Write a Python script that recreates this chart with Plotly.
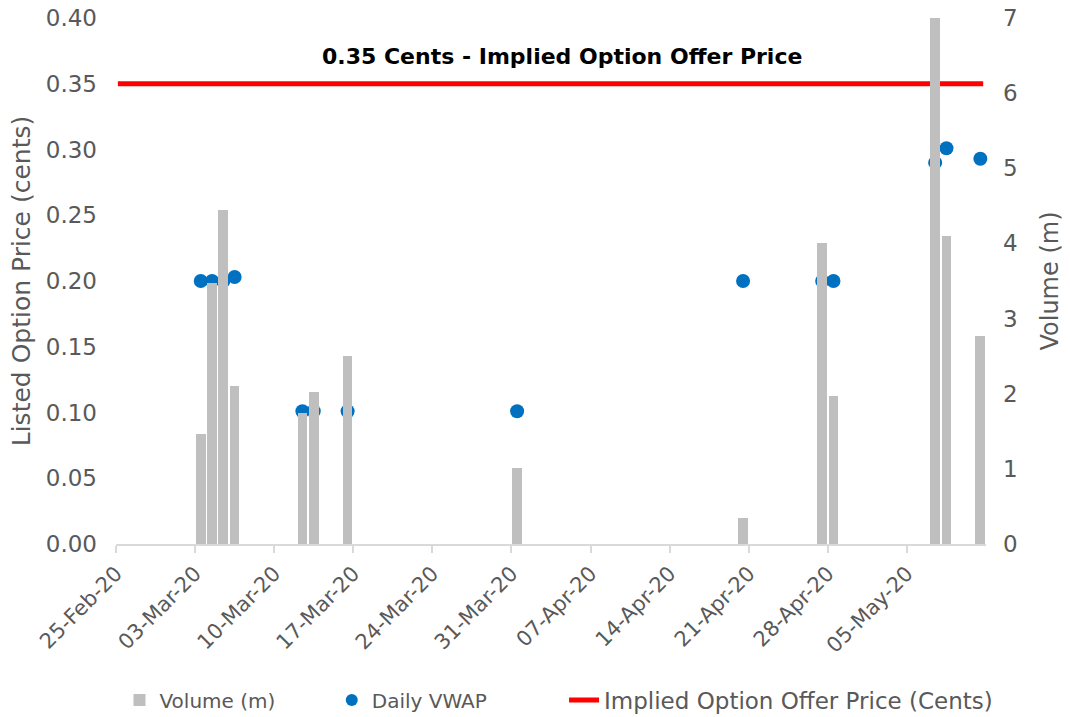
import plotly.graph_objects as go

# ---- data ----
vol_dates = ["2020-03-03", "2020-03-04", "2020-03-05", "2020-03-06",
             "2020-03-12", "2020-03-13", "2020-03-16",
             "2020-03-31", "2020-04-20", "2020-04-27", "2020-04-28",
             "2020-05-07", "2020-05-08", "2020-05-11"]
volume_m = [1.46, 3.48, 4.45, 2.10,
            1.75, 2.02, 2.50,
            1.01, 0.35, 4.00, 1.97,
            7.00, 4.10, 2.77]

vwap_dates = ["2020-03-03", "2020-03-04", "2020-03-05", "2020-03-06",
              "2020-03-12", "2020-03-13", "2020-03-16",
              "2020-03-31", "2020-04-20", "2020-04-27", "2020-04-28",
              "2020-05-07", "2020-05-08", "2020-05-11"]
vwap = [0.200, 0.200, 0.200, 0.203,
        0.101, 0.101, 0.101,
        0.101, 0.200, 0.200, 0.200,
        0.290, 0.301, 0.293]

offer_dates = ["2020-02-25 04:00", "2020-05-11 18:00"]
offer_price = [0.35, 0.35]

tick_dates = ["2020-02-25", "2020-03-03", "2020-03-10", "2020-03-17", "2020-03-24",
              "2020-03-31", "2020-04-07", "2020-04-14", "2020-04-21", "2020-04-28",
              "2020-05-05"]
tick_labels = ["25-Feb-20", "03-Mar-20", "10-Mar-20", "17-Mar-20", "24-Mar-20",
               "31-Mar-20", "07-Apr-20", "14-Apr-20", "21-Apr-20", "28-Apr-20",
               "05-May-20"]

DAY = 86400000
FONT = "DejaVu Sans"
GREY = "#595959"

fig = go.Figure()
fig.add_trace(go.Bar(
    x=vol_dates, y=volume_m, name="Volume (m)", yaxis="y2", legend="legend",
    marker=dict(color="#BFBFBF", line=dict(width=0)),
    width=0.86 * DAY, xperiod=DAY, xperiodalignment="middle",
))
fig.add_trace(go.Scatter(
    x=vwap_dates, y=vwap, name="Daily VWAP", mode="markers", legend="legend2",
    marker=dict(color="#0070C0", size=14), cliponaxis=False,
    xperiod=DAY, xperiodalignment="middle",
))
fig.add_trace(go.Scatter(
    x=offer_dates, y=offer_price, name="Implied Option Offer Price (Cents)",
    mode="lines", line=dict(color="#FF0000", width=5), legend="legend3",
))

fig.add_annotation(
    text="<b>0.35 Cents - Implied Option Offer Price</b>",
    xref="paper", yref="paper", x=0.513, y=0.927, yanchor="middle",
    showarrow=False, font=dict(family=FONT, size=22, color="#000000"),
)

leg_common = dict(orientation="h", y=-0.2966, yanchor="middle",
                  bgcolor="rgba(0,0,0,0)", itemsizing="constant")

fig.update_layout(
    width=1070, height=717,
    margin=dict(l=116, r=84, t=18, b=173, autoexpand=False),
    paper_bgcolor="white", plot_bgcolor="white",
    font=dict(family=FONT, color=GREY),
    bargap=0,
    showlegend=True,
    legend=dict(x=0.004, xanchor="left", font=dict(size=20, color=GREY), **leg_common),
    legend2=dict(x=0.248, xanchor="left", font=dict(size=20, color=GREY), **leg_common),
    legend3=dict(x=0.515, xanchor="left", font=dict(size=23, color=GREY), **leg_common),
    xaxis=dict(
        type="date", range=["2020-02-25", "2020-05-12"],
        tickvals=tick_dates, ticktext=tick_labels, tickangle=-45,
        tickfont=dict(size=21, color=GREY),
        showgrid=False, showline=True, linecolor="#D9D9D9", linewidth=2,
        ticks="outside", ticklen=7, tickcolor="#D9D9D9", tickwidth=2,
        zeroline=False, automargin=False, ticklabeloverflow="allow",
    ),
    yaxis=dict(
        range=[0, 0.40], tickvals=[0, 0.05, 0.10, 0.15, 0.20, 0.25, 0.30, 0.35, 0.40],
        tickformat=".2f",
        tickfont=dict(size=23, color=GREY), ticklabelstandoff=18,
        title=dict(text="Listed Option Price (cents)", font=dict(size=25, color=GREY), standoff=8),
        showgrid=False, zeroline=False, showline=False, automargin=False,
        ticklabeloverflow="allow",
    ),
    yaxis2=dict(
        range=[0, 7], dtick=1, overlaying="y", side="right",
        tickfont=dict(size=23, color=GREY), ticklabelstandoff=16,
        title=dict(text="Volume (m)", font=dict(size=24, color=GREY), standoff=24),
        showgrid=False, zeroline=False, showline=False, automargin=False,
        ticklabeloverflow="allow",
    ),
)

fig.write_html("out.html", include_plotlyjs=True,
               config={"displayModeBar": False},
               post_script="document.body.style.margin='0';")
